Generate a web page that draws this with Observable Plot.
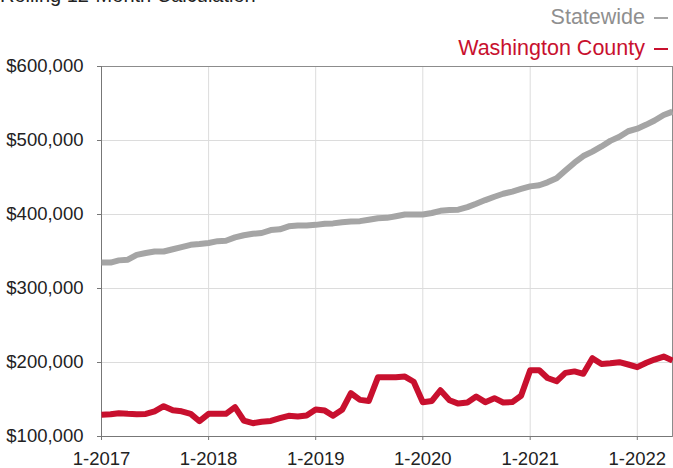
<!DOCTYPE html>
<html><head><meta charset="utf-8">
<script src="https://cdn.jsdelivr.net/npm/d3@7"></script>
<script src="https://cdn.jsdelivr.net/npm/@observablehq/plot@0.6"></script>
<style>
body{margin:0;background:#fff;font-family:"Liberation Sans",Arial,sans-serif;}
#wrap{position:relative;width:673px;height:468px;overflow:hidden;}
#head{position:relative;height:56px;}
#title{position:absolute;left:0;top:-15px;font-size:20px;line-height:20px;color:#222;white-space:nowrap;}
.leg{position:absolute;right:5px;font-size:21.5px;line-height:22px;white-space:nowrap;}
.leg .sw{display:inline-block;width:14px;height:2px;margin-left:9px;vertical-align:middle;}
</style></head>
<body>
<div id="wrap">
  <div id="head">
    <div id="title">Rolling 12-Month Calculation</div>
    <div class="leg" id="leg1" style="top:6px;color:#8f8f8f">Statewide<span class="sw" style="background:#a5a5a5"></span></div>
    <div class="leg" id="leg2" style="top:37px;color:#c8102e">Washington County<span class="sw" style="background:#c8102e"></span></div>
  </div>
  <div id="chart"></div>
</div>
<script>
const seriesNames = ["Statewide", "Washington County"];
const seriesColors = ["#a5a5a5", "#c8102e"];
const xTickLabels = ["1-2017", "1-2018", "1-2019", "1-2020", "1-2021", "1-2022"];
const yTicks = [100000, 200000, 300000, 400000, 500000, 600000];
// monthly, 1-2017 through 5-2022 (in $1000s)
const statewide = [
  335, 335, 338, 339, 345.5, 348, 350, 350, 353, 356, 359, 360,
  361.5, 364, 364.5, 369, 372, 374, 375, 379, 380, 384, 385, 385,
  386, 387.5, 388, 389.6, 390.5, 391, 393, 395, 395.5, 397.7, 400, 400,
  400, 402, 405, 406, 406.5, 410, 414.5, 419.5, 424, 428, 431, 434.5,
  438, 439.5, 443.5, 449, 459.5, 470, 479, 485, 492, 499.5, 505, 512.5,
  516, 521.5, 527, 534.5, 539
];
const washington = [
  129.3, 130, 131.5, 130.6, 130, 130.5, 134, 141, 135.5, 134, 130.6, 120.7,
  130.6, 130.6, 130.6, 139.6, 121.6, 118, 120, 121, 124.7, 128, 127, 128.4,
  136.5, 135, 128, 136, 158.5, 149.5, 148, 180, 180, 180, 181, 174,
  146.4, 148, 162.5, 149, 144.5, 146, 154, 146.4, 151.8, 146, 146.5, 155,
  189.5, 189.5, 179, 174.7, 186, 188, 184.7, 205.8, 198, 199, 200.4, 197.3,
  193.7, 199.6, 204, 208, 202.7
];

const months = d3.utcMonth.range(new Date(Date.UTC(2017, 0, 1)), new Date(Date.UTC(2022, 5, 1)));
const yearTicks = xTickLabels.map(s => new Date(Date.UTC(+s.split("-")[1], +s.split("-")[0] - 1, 1)));
const rows = [];
[statewide, washington].forEach((arr, k) => arr.forEach((v, i) => rows.push({date: months[i], value: v * 1000, series: seriesNames[k]})));

const chart = Plot.plot({
  width: 673,
  height: 412,
  marginTop: 10,
  marginRight: 1,
  marginBottom: 32,
  marginLeft: 101,
  style: {fontFamily: "'Liberation Sans', Arial, sans-serif", fontSize: "18.5px", color: "#222", background: "#fff"},
  x: {type: "utc", domain: [months[0], months[months.length - 1]]},
  y: {domain: [100000, 600000]},
  color: {domain: seriesNames, range: seriesColors},
  marks: [
    Plot.gridX(yearTicks, {stroke: "#dcdcdc", strokeOpacity: 1}),
    Plot.gridY(yTicks, {stroke: "#dcdcdc", strokeOpacity: 1}),
    Plot.frame({stroke: "#8c8c8c"}),
    Plot.axisY(yTicks, {tickFormat: d3.format("$,"), tickSize: 4, tickPadding: 14, label: null, stroke: "#777"}),
    Plot.axisX(yearTicks, {tickFormat: (d, i) => xTickLabels[i], tickSize: 4, tickPadding: 11, label: null, stroke: "#777"}),
    Plot.ruleX([months[0]], {stroke: "#777"}),
    Plot.ruleY([100000], {stroke: "#777"}),
    Plot.lineY(rows, {x: "date", y: "value", z: "series", stroke: "series", strokeWidth: 6, strokeLinejoin: "round", strokeLinecap: "butt"})
  ]
});
document.getElementById("chart").appendChild(chart);
</script>
</body></html>
